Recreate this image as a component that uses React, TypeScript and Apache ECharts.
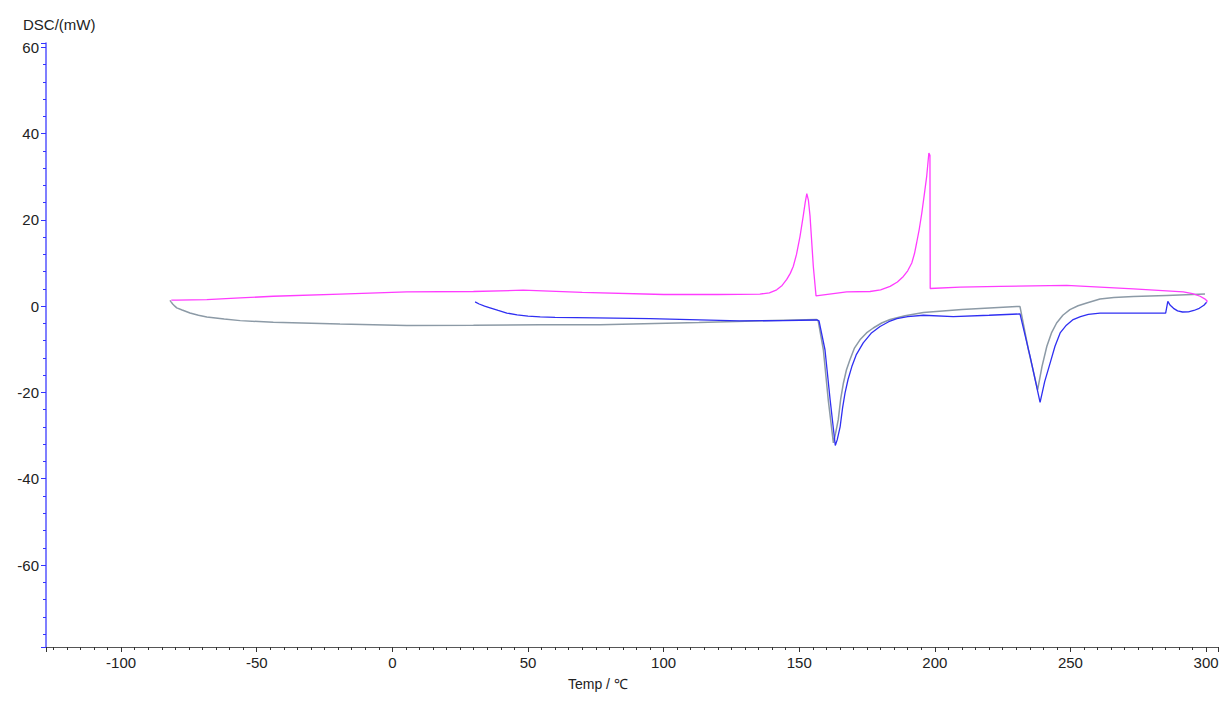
import React, { useEffect, useRef } from "react";
import * as echarts from "echarts";

// Temperature (°C) / DSC signal (mW) pairs
const heating1: [number, number][] = [
  [30.5, 1.0], [32, 0.5], [34, 0.0], [36, -0.4], [39, -1.0], [42.2, -1.6], [46, -2.0],
  [50, -2.3], [54.5, -2.5], [60, -2.6], [75, -2.7], [95, -2.9], [128, -3.4], [144, -3.35],
  [156.5, -3.2], [157.3, -3.4], [159.5, -10.1], [161.4, -21.7], [163.3, -32.3], [164, -31],
  [165.1, -27.9], [166, -23.5], [166.9, -20.1], [168, -17], [169.4, -14], [171, -11.3],
  [173.6, -8.5], [176.5, -6.3], [179.8, -4.7], [183, -3.6], [186, -2.9], [190, -2.4],
  [195.8, -2.1], [206.8, -2.4], [220, -2.1], [231.4, -1.8], [235.1, -11.6], [238.8, -22.3],
  [240.5, -17.5], [242.5, -13.2], [244.3, -9.3], [246.2, -6.2], [248.5, -4.4], [251, -3.1],
  [253.7, -2.4], [256.6, -1.9], [260.9, -1.6], [279.3, -1.6], [285.1, -1.6], [285.9, 1.1],
  [286.8, 0.2], [288, -0.5], [289.5, -1.1], [291.3, -1.35], [293.5, -1.3], [295.5, -1.0],
  [297.5, -0.5], [299.2, 0.2], [300.2, 0.9],
];

const cooling: [number, number][] = [
  [-81.5, 1.4], [-79.5, 1.4], [-68.4, 1.5], [-56.1, 1.9], [-43.9, 2.3], [-19.3, 2.8],
  [5.3, 3.3], [29.9, 3.4], [48.2, 3.7], [70, 3.2], [100, 2.7], [120, 2.7], [135.5, 2.8],
  [139, 3.1], [141.7, 3.8], [143.7, 4.8], [145.4, 6.2], [146.7, 7.6], [147.8, 9.2],
  [149, 12], [150.3, 16.2], [151.5, 21], [152.2, 24], [152.8, 26.1], [153.4, 24.5],
  [154, 20.8], [155.2, 9.2], [156.2, 2.4], [167.5, 3.3], [176.1, 3.4], [180, 3.8],
  [183.5, 4.6], [186.2, 5.6], [188.4, 6.9], [190, 8.2], [191.5, 10], [192.5, 12.2],
  [193.3, 14.7], [194.3, 18], [195.2, 21.6], [196.1, 25.8], [197, 30.1], [197.8, 35.5],
  [198.2, 35], [198.3, 4.1], [209.3, 4.4], [224, 4.6], [248.6, 4.8], [273.2, 4.0],
  [291.6, 3.3], [295, 2.9], [297.8, 2.3], [299.5, 1.7], [300.4, 1.2], [300.2, 0.9],
];

const heating2: [number, number][] = [
  [-82, 1.35], [-81.6, 1.0], [-81, 0.5], [-80.2, 0.0], [-79.5, -0.4], [-77.5, -0.9],
  [-74.6, -1.6], [-71.5, -2.1], [-68.4, -2.5], [-62, -3.0], [-56.1, -3.35], [-43.9, -3.75],
  [-19.3, -4.15], [5.3, -4.5], [29.9, -4.45], [54.5, -4.3], [76.6, -4.3], [113, -3.8],
  [140, -3.3], [156.4, -3.1], [157, -3.4], [158.9, -10.1], [160.7, -21.7], [162.6, -31.7],
  [163.4, -29.5], [164.4, -26.3], [165.3, -21.5], [166.3, -17.8], [167.4, -14.8],
  [168.7, -12.4], [170.3, -9.8], [172.4, -7.8], [174.8, -6.2], [177.3, -5.06], [180.4, -3.9],
  [183.5, -3.1], [189, -2.2], [195.8, -1.45], [210, -0.8], [230.2, -0.05], [231.4, -0.1],
  [234.5, -10.1], [237.9, -19.4], [239.5, -14], [241.3, -9.3], [243, -6.2], [244.9, -3.9],
  [247.2, -2.1], [249.8, -0.8], [252.8, 0.1], [256, 0.74], [260.9, 1.67], [266, 2.0],
  [273.2, 2.27], [285.5, 2.5], [299.6, 2.8],
];

const xRange = [-127.7, 304.4];
const yRange = [-79, 61];
const xStep = 50;
const yStep = 20;

const FONT = "'Liberation Sans', Arial, sans-serif";

export default function App() {
  const ref = useRef<HTMLDivElement>(null);
  useEffect(() => {
    if (!ref.current) return;
    const chart = echarts.init(ref.current, undefined, { renderer: "svg" });
    const isMult = (v: number, s: number) => Math.abs(v / s - Math.round(v / s)) < 1e-6;
    chart.setOption({
      animation: false,
      backgroundColor: "#ffffff",
      grid: { left: 46, top: 43, right: 12, bottom: 54, containLabel: false },
      xAxis: {
        type: "value",
        min: xRange[0],
        max: xRange[1],
        minInterval: xStep,
        maxInterval: xStep,
        axisLine: { show: true, onZero: false, lineStyle: { color: "#555555", width: 1 } },
        axisTick: { show: true, inside: false, length: 5, lineStyle: { color: "#333333" } },
        minorTick: { show: true, splitNumber: 10, length: 3, lineStyle: { color: "#333333" } },
        splitLine: { show: false },
        axisLabel: {
          color: "#222222",
          fontSize: 15,
          fontFamily: FONT,
          margin: 8,
          formatter: (v: number) => (isMult(v, xStep) ? String(Math.round(v)) : ""),
        },
      },
      yAxis: {
        type: "value",
        min: yRange[0],
        max: yRange[1],
        minInterval: yStep,
        maxInterval: yStep,
        axisLine: { show: true, onZero: false, lineStyle: { color: "#5555ff", width: 1.5 } },
        axisTick: { show: true, inside: false, length: 5, lineStyle: { color: "#3333ff" } },
        minorTick: { show: true, splitNumber: 5, length: 3, lineStyle: { color: "#3333ff" } },
        splitLine: { show: false },
        axisLabel: {
          color: "#222222",
          fontSize: 15,
          fontFamily: FONT,
          margin: 7,
          formatter: (v: number) => (isMult(v, yStep) ? String(Math.round(v)) : ""),
        },
      },
      graphic: [
        {
          type: "text",
          left: 23,
          top: 17,
          style: { text: "DSC/(mW)", fill: "#222222", font: `15px ${FONT}` },
        },
        {
          type: "text",
          left: 568,
          top: 677,
          style: { text: "Temp / ℃", fill: "#222222", font: `14px ${FONT}` },
        },
      ],
      series: [
        {
          name: "Heating 2",
          type: "line",
          data: heating2,
          showSymbol: false,
          lineStyle: { color: "#8c9aa6", width: 1.5 },
          z: 2,
        },
        {
          name: "Heating 1",
          type: "line",
          data: heating1,
          showSymbol: false,
          lineStyle: { color: "#2f2ff2", width: 1.3 },
          z: 3,
        },
        {
          name: "Cooling",
          type: "line",
          data: cooling,
          showSymbol: false,
          lineStyle: { color: "#ff3cff", width: 1.3 },
          z: 4,
        },
      ],
    });
    return () => chart.dispose();
  }, []);
  return (
    <div
      ref={ref}
      style={{ position: "fixed", left: 0, top: 0, width: 1230, height: 701, background: "#fff" }}
    />
  );
}
